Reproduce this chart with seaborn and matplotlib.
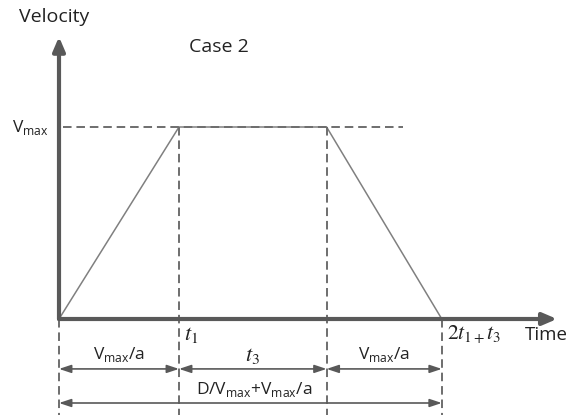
import seaborn as sns
import matplotlib.pyplot as plt
import pandas as pd

# velocity profile (time in units of Vmax/a, velocity in units of Vmax)
time_points = [0.0, 1.0, 2.23, 3.19]
velocity = [0.0, 1.0, 1.0, 0.0]

# labels under the time axis
tick_labels = ['$t_{\\mathit{1}}$', '$2t_{\\mathit{1+}}t_{\\mathit{3}}$']
segment_labels = ['V$_{\\mathregular{max}}$/a', '$t_{\\mathit{3}}$', 'V$_{\\mathregular{max}}$/a']
total_label = 'D/V$_{\\mathregular{max}}$+V$_{\\mathregular{max}}$/a'

sns.set_theme(style="white")
plt.rcParams['font.family'] = ['Open Sans', 'DejaVu Sans']

profile = pd.DataFrame({'Time': time_points, 'Velocity': velocity})

fig = plt.figure(figsize=(5.72, 4.20), dpi=100)
ax = fig.add_axes([0, 0, 1, 1])

# trapezoid
sns.lineplot(data=profile, x='Time', y='Velocity', ax=ax, color='#808080', linewidth=1.1)

axis_col = '#595959'
dash_col = '#6e6e6e'
txt_col = '#222222'
dash_style = dict(color=dash_col, linewidth=1.4, linestyle=(0, (4.4, 2.5)))
t_end = time_points[-1]
bottom = -0.5

# axes with arrow heads
ax.annotate('', xy=(0, 1.47), xytext=(0, 0),
            arrowprops=dict(arrowstyle='-|>,head_length=0.7,head_width=0.3', color=axis_col, lw=3, shrinkA=0, shrinkB=0))
ax.annotate('', xy=(4.15, 0), xytext=(0, 0),
            arrowprops=dict(arrowstyle='-|>,head_length=0.7,head_width=0.3', color=axis_col, lw=3, shrinkA=0, shrinkB=0))

# dashed guide lines
ax.plot([0.03, 2.87], [velocity[1], velocity[2]], **dash_style)
for t in time_points[1:3]:
    ax.plot([t, t], [velocity[1], bottom], **dash_style)
for t in [time_points[0], t_end]:
    ax.plot([t, t], [0, bottom], **dash_style)

# dimension arrows
arr = dict(arrowstyle='<|-|>,head_length=0.6,head_width=0.2', color=axis_col, lw=1.2, shrinkA=0, shrinkB=0)
row1, row2 = -0.26, -0.4375
for left, right, lab in zip(time_points[:-1], time_points[1:], segment_labels):
    ax.annotate('', xy=(right, row1), xytext=(left, row1), arrowprops=arr)
    if lab.startswith('$'):
        ax.text((left + right) / 2, row1 + 0.07, lab, ha='center', va='center', fontsize=16,
                math_fontfamily='stix', color=txt_col)
    else:
        ax.text((left + right) / 2, row1 + 0.075, lab, ha='center', va='center', fontsize=12.5, color=txt_col)
ax.annotate('', xy=(t_end, row2), xytext=(0, row2), arrowprops=arr)
ax.text(t_end / 2 + 0.03, row2 + 0.07, total_label, ha='center', va='center', fontsize=12.5, color=txt_col)

# axis texts
ax.text(-0.33, 1.573, 'Velocity', ha='left', va='center', fontsize=14, color=txt_col)
ax.text(1.33, 1.417, 'Case 2', ha='center', va='center', fontsize=14, color=txt_col)
ax.text(-0.24, 0.995, 'V$_{\\mathregular{max}}$', ha='center', va='center', fontsize=12.5, color=txt_col)
ax.text(3.88, -0.083, 'Time', ha='left', va='center', fontsize=13.5, color=txt_col)
ax.text(time_points[1] + 0.04, -0.083, tick_labels[0], ha='left', va='center', fontsize=16,
        math_fontfamily='stix', color=txt_col)
ax.text(t_end + 0.04, -0.083, tick_labels[1], ha='left', va='center', fontsize=15.5,
        math_fontfamily='stix', color=txt_col)

ax.set_xlim(-59 / 120, 513 / 120)
ax.set_ylim(-101 / 192, 319 / 192)
ax.axis('off')

fig.savefig('out.png', dpi=100)
